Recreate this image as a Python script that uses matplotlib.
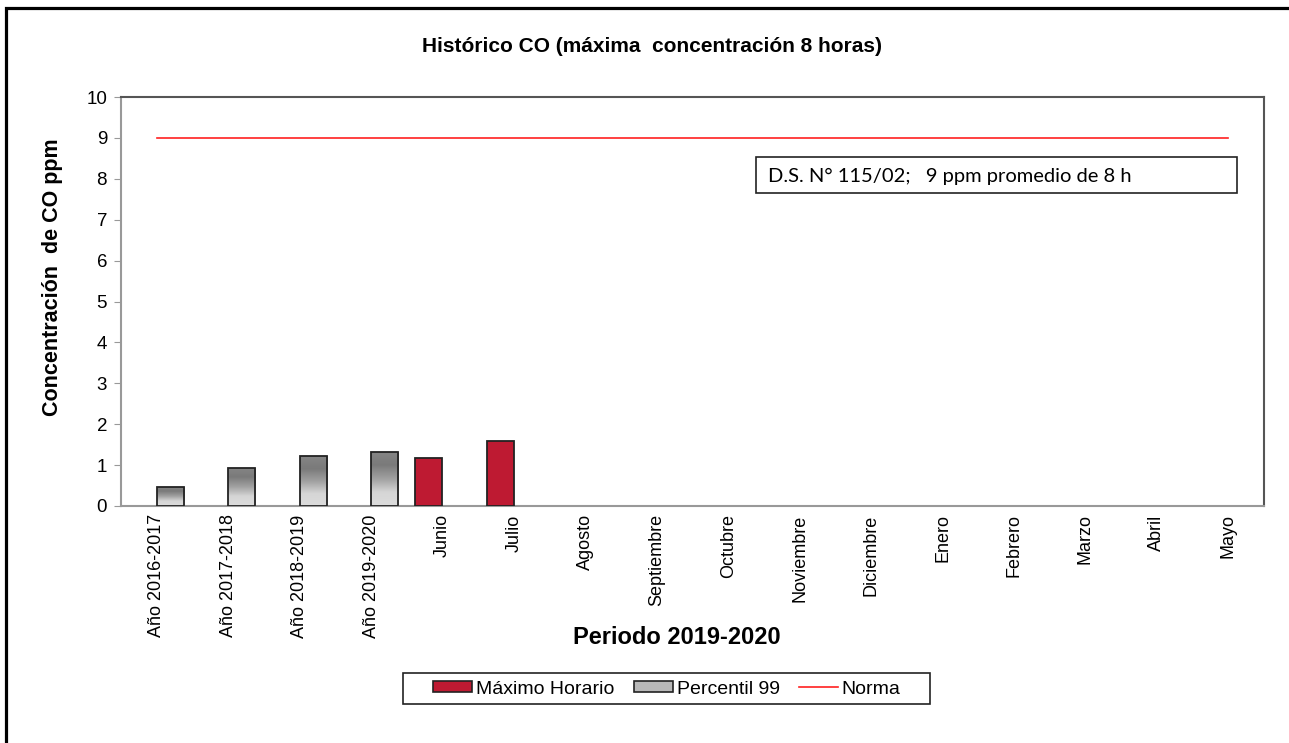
import numpy as np
import matplotlib.pyplot as plt
from matplotlib.patches import Rectangle, Patch
from matplotlib.lines import Line2D

plt.rcParams['font.family'] = ['Liberation Sans', 'DejaVu Sans']

categorias = ["Año 2016-2017", "Año 2017-2018", "Año 2018-2019", "Año 2019-2020",
              "Junio", "Julio", "Agosto", "Septiembre", "Octubre", "Noviembre",
              "Diciembre", "Enero", "Febrero", "Marzo", "Abril", "Mayo"]
maximo_horario = [np.nan, np.nan, np.nan, np.nan, 1.18, 1.58] + [np.nan] * 10
percentil_99 = [0.47, 0.93, 1.22, 1.33] + [np.nan] * 12
norma = [9] * 16

rojo = '#BE1A32'
x = np.arange(len(categorias))
ancho = 0.38

fig = plt.figure(figsize=(12.89, 7.43), dpi=100)
ax = fig.add_axes([121 / 1289, 1 - 506 / 743, 1143 / 1289, 409 / 743])

# barras rojas
ax.bar(x - ancho / 2, maximo_horario, width=ancho, color=rojo,
       edgecolor='#222222', linewidth=1.3, zorder=3)

# barras grises con degradado
grad = np.linspace(0, 1, 256).reshape(-1, 1)
cmap_gris = plt.matplotlib.colors.LinearSegmentedColormap.from_list(
    'g', ['#dcdcdc', '#d6d6d6', '#a0a0a0', '#7a7a7a', '#868686'])
barras = ax.bar(x + ancho / 2, percentil_99, width=ancho, facecolor='none',
                edgecolor='#222222', linewidth=1.3, zorder=4)
for b, v in zip(barras, percentil_99):
    if np.isnan(v):
        continue
    x0 = b.get_x()
    img = ax.imshow(grad, cmap=cmap_gris, extent=[x0, x0 + ancho, 0, v],
                    aspect='auto', origin='lower', zorder=3)
    img.set_clip_path(b)

ax.plot(x, norma, color='#FF2020', linewidth=1.2, zorder=5)

ax.set_xlim(-0.5, len(categorias) - 0.5)
ax.set_ylim(0, 10)
ax.set_yticks(range(0, 11))
ax.set_xticks(x)
ax.set_xticklabels(categorias, rotation=90, fontsize=13)
ax.tick_params(axis='x', length=0, pad=6)
ax.tick_params(axis='y', length=5, color='#999999', labelsize=13.5, pad=5)
for s in ['left', 'bottom']:
    ax.spines[s].set_color('#999999')
    ax.spines[s].set_linewidth(1.5)
for s in ['top', 'right']:
    ax.spines[s].set_color('#555555')
    ax.spines[s].set_linewidth(1.5)

ax.set_ylabel('Concentración  de CO ppm', fontsize=15.5, fontweight='bold')
ax.yaxis.set_label_coords(-0.0507, 0.56)
fig.text(677 / 1289, 1 - 638 / 743, 'Periodo 2019-2020', ha='center', va='center',
         fontsize=17, fontweight='bold')
fig.text(652 / 1289, 1 - 47 / 743, 'Histórico CO (máxima  concentración 8 horas)',
         ha='center', va='center', fontsize=15, fontweight='bold')

# cuadro de la norma
fig.patches.append(Rectangle((756 / 1289, 1 - 193 / 743), (1237 - 756) / 1289, 36 / 743,
                             transform=fig.transFigure, facecolor='white',
                             edgecolor='#222222', linewidth=1.2, zorder=6))
fig.text(768 / 1289, 1 - 176 / 743, 'D.S. N° 115/02;   9 ppm promedio de 8 h',
         fontsize=14.5, family=['Lato', 'DejaVu Sans'], ha='left', va='center', zorder=7)

# leyenda
fig.patches.append(Rectangle((403 / 1289, 1 - 704 / 743), (930 - 403) / 1289, 31 / 743,
                             transform=fig.transFigure, facecolor='white',
                             edgecolor='#222222', linewidth=1.2))
handles = [Patch(facecolor=rojo, edgecolor='#222222', linewidth=1.2),
           Patch(facecolor='#b8b8b8', edgecolor='#222222', linewidth=1.2),
           Line2D([], [], color='#FF2020', linewidth=1.2)]
leg = fig.legend(handles, ['Máximo Horario', 'Percentil 99', 'Norma'], ncol=3,
                 loc='center', bbox_to_anchor=(667 / 1289, 1 - 689 / 743), fontsize=14,
                 frameon=False, handlelength=2.0, handleheight=0.5, handletextpad=0.2,
                 columnspacing=1.0, borderpad=0.2)

# marco exterior
fig.patches.append(Rectangle((6 / 1289, -0.1), 1.5, 1 - 8 / 743 + 0.1,
                             transform=fig.transFigure, fill=False,
                             edgecolor='black', linewidth=2.3))

fig.savefig('out.png', dpi=100)
